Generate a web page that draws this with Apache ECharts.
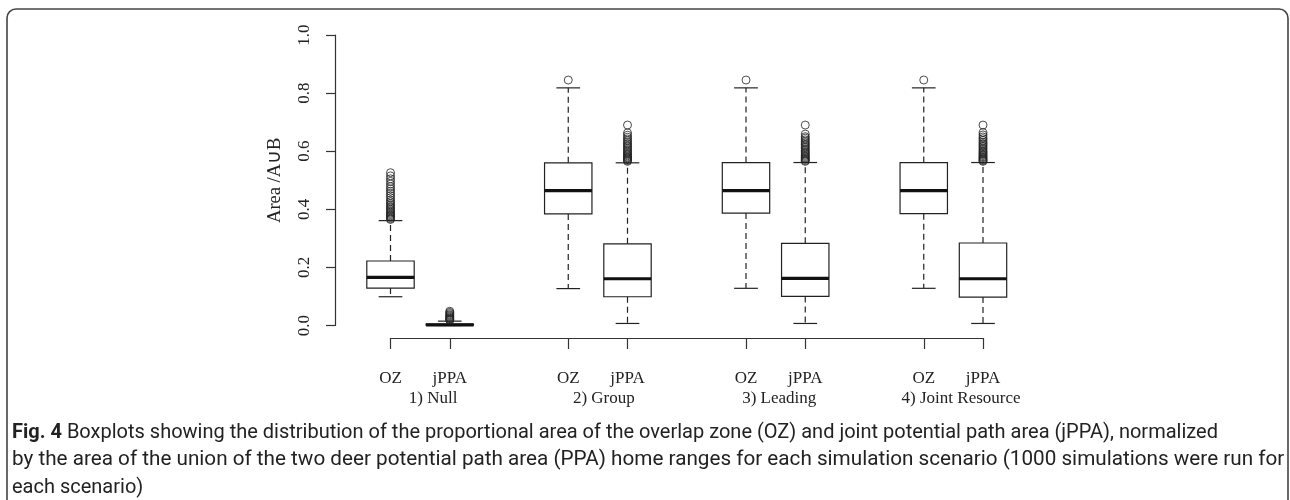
<!DOCTYPE html>
<html>
<head>
<meta charset="utf-8">
<script src="https://cdn.jsdelivr.net/npm/echarts@6/dist/echarts.min.js"></script>
<style>
  html, body { margin: 0; padding: 0; background: #fff; }
  #main { width: 1290px; height: 500px; }
</style>
</head>
<body>
<div id="main"></div>
<script>
// box positions along the x axis (R style "at")
const positions = [1, 2, 4, 5, 7, 8, 10, 11];
const tickNames = ['OZ', 'jPPA', 'OZ', 'jPPA', 'OZ', 'jPPA', 'OZ', 'jPPA'];
const groupNames = ['1) Null', '2) Group', '3) Leading', '4) Joint Resource'];
const groupLabelAt = [1.72, 4.6, 7.56, 10.63];

// box statistics, one entry per box
const lowWhisker  = [0.099, 0.000, 0.127, 0.007, 0.128, 0.007, 0.128, 0.007];
const q1          = [0.129, 0.001, 0.384, 0.099, 0.387, 0.100, 0.385, 0.098];
const median      = [0.166, 0.002, 0.464, 0.161, 0.464, 0.162, 0.464, 0.161];
const q3          = [0.222, 0.005, 0.560, 0.281, 0.561, 0.283, 0.561, 0.284];
const highWhisker = [0.361, 0.015, 0.818, 0.560, 0.818, 0.561, 0.818, 0.561];

// outliers
const outNullOZ = [0.365, 0.368, 0.372, 0.375, 0.378, 0.382, 0.386, 0.39, 0.395, 0.40, 0.405, 0.41,
  0.415, 0.42, 0.426, 0.432, 0.44, 0.447, 0.455, 0.462, 0.47, 0.478, 0.487, 0.496, 0.505, 0.515, 0.526];
const outNullJPPA = [0.018, 0.02, 0.022, 0.025, 0.028, 0.031, 0.034, 0.037, 0.041, 0.045, 0.049];
const outGroupOZ = [0.845];
const outGroupJPPA = [0.565, 0.568, 0.571, 0.574, 0.577, 0.58, 0.584, 0.588, 0.592, 0.596, 0.60, 0.605,
  0.61, 0.615, 0.62, 0.625, 0.63, 0.636, 0.642, 0.648, 0.655, 0.663, 0.69];
const outLeadingOZ = [0.845];
const outLeadingJPPA = [0.565, 0.568, 0.572, 0.575, 0.578, 0.582, 0.586, 0.59, 0.594, 0.598, 0.603,
  0.608, 0.613, 0.618, 0.623, 0.628, 0.633, 0.639, 0.645, 0.65, 0.659, 0.69];
const outJointOZ = [0.845];
const outJointJPPA = [0.565, 0.568, 0.571, 0.574, 0.578, 0.581, 0.585, 0.589, 0.593, 0.597, 0.601,
  0.606, 0.611, 0.616, 0.621, 0.626, 0.631, 0.637, 0.643, 0.649, 0.656, 0.664, 0.69];
const outliers = [outNullOZ, outNullJPPA, outGroupOZ, outGroupJPPA,
  outLeadingOZ, outLeadingJPPA, outJointOZ, outJointJPPA];

const caption = [
  '{b|Fig. 4} Boxplots showing the distribution of the proportional area of the overlap zone (OZ) and joint potential path area (jPPA), normalized',
  '{w|by the area of the union of the two deer potential path area (PPA) home ranges for each simulation scenario (1000 simulations were run for}',
  'each scenario)'
];

const boxData = positions.map((p, i) => [p, lowWhisker[i], q1[i], median[i], q3[i], highWhisker[i]]);
const outlierData = [];
outliers.forEach((list, i) => list.forEach(v => outlierData.push([positions[i], v])));

const serif = 'Liberation Serif';
const sans = 'Roboto, sans-serif';
const ink = '#222';

function renderBox(params, api) {
  const x = api.value(0);
  const half = api.size([0.8, 0])[0] / 2;
  const cap = half / 2;
  const lo = api.coord([x, api.value(1)]);
  const b1 = api.coord([x, api.value(2)]);
  const md = api.coord([x, api.value(3)]);
  const b3 = api.coord([x, api.value(4)]);
  const hi = api.coord([x, api.value(5)]);
  const cx = lo[0];
  const solid = { stroke: ink, lineWidth: 1.2, fill: null };
  const dashed = { stroke: ink, lineWidth: 1.2, lineDash: [6, 4], fill: null };
  return {
    type: 'group',
    children: [
      { type: 'line', shape: { x1: cx, y1: b1[1], x2: cx, y2: lo[1] }, style: dashed },
      { type: 'line', shape: { x1: cx, y1: b3[1], x2: cx, y2: hi[1] }, style: dashed },
      { type: 'line', shape: { x1: cx - cap, y1: lo[1], x2: cx + cap, y2: lo[1] }, style: solid },
      { type: 'line', shape: { x1: cx - cap, y1: hi[1], x2: cx + cap, y2: hi[1] }, style: solid },
      { type: 'rect', shape: { x: cx - half, y: b3[1], width: half * 2, height: b1[1] - b3[1] }, style: solid },
      { type: 'line', shape: { x1: cx - half, y1: md[1], x2: cx + half, y2: md[1] },
        style: { stroke: '#111', lineWidth: 3.2 } }
    ]
  };
}

const chart = echarts.init(document.getElementById('main'));
const option = {
  animation: false,
  backgroundColor: '#fff',
  title: {
    left: 12,
    top: 419,
    padding: 0,
    text: caption.join('\n'),
    textStyle: {
      fontFamily: sans,
      fontSize: 20,
      fontWeight: 'normal',
      color: ink,
      lineHeight: 27.5,
      rich: {
        b: { fontFamily: sans, fontSize: 20, fontWeight: 'bold', color: ink, lineHeight: 27.5 },
        w: { fontFamily: sans, fontSize: 20.7, color: ink, lineHeight: 27.5 }
      }
    }
  },
  graphic: [{
    type: 'rect',
    shape: { x: 7, y: 9, width: 1281, height: 540, r: 9 },
    style: { fill: null, stroke: '#444', lineWidth: 1.6 },
    silent: true
  }],
  grid: { left: 390.5, right: 307, top: 35, bottom: 174.5 },
  xAxis: [{
    type: 'value',
    min: 1,
    max: 11,
    position: 'bottom',
    offset: 12.5,
    splitLine: { show: false },
    axisLine: { onZero: false, lineStyle: { color: '#333', width: 1.2 } },
    axisTick: { customValues: positions, length: 11, lineStyle: { color: '#333', width: 1.2 } },
    axisLabel: {
      customValues: positions,
      formatter: v => tickNames[positions.indexOf(v)],
      margin: 32,
      fontFamily: serif,
      fontSize: 17,
      color: ink
    }
  }, {
    type: 'value',
    min: 1,
    max: 11,
    position: 'bottom',
    offset: 12.5,
    splitLine: { show: false },
    axisLine: { show: false, onZero: false },
    axisTick: { show: false },
    axisLabel: {
      customValues: groupLabelAt,
      formatter: v => groupNames[groupLabelAt.indexOf(v)],
      margin: 52,
      fontFamily: serif,
      fontSize: 17,
      color: ink
    }
  }],
  yAxis: {
    type: 'value',
    min: 0,
    max: 1,
    interval: 0.2,
    offset: 55.5,
    splitLine: { show: false },
    axisLine: { show: true, onZero: false, lineStyle: { color: '#333', width: 1.2 } },
    axisTick: { show: true, length: 9, lineStyle: { color: '#333', width: 1.2 } },
    axisLabel: {
      rotate: 90,
      margin: 22,
      formatter: v => v.toFixed(1),
      fontFamily: serif,
      fontSize: 17,
      color: ink
    },
    name: 'Area /A\u222AB',
    nameLocation: 'middle',
    nameRotate: 90,
    nameGap: 50,
    nameTextStyle: { fontFamily: serif, fontSize: 18.5, color: ink }
  },
  series: [{
    type: 'custom',
    name: 'boxes',
    xAxisIndex: 0,
    renderItem: renderBox,
    encode: { x: 0, y: [1, 2, 3, 4, 5] },
    data: boxData,
    silent: true
  }, {
    type: 'scatter',
    name: 'outliers',
    xAxisIndex: 0,
    symbol: 'circle',
    symbolSize: 8,
    itemStyle: { color: 'rgba(0,0,0,0)', borderColor: ink, borderWidth: 1 },
    data: outlierData,
    silent: true
  }]
};
option && chart.setOption(option);
</script>
</body>
</html>
